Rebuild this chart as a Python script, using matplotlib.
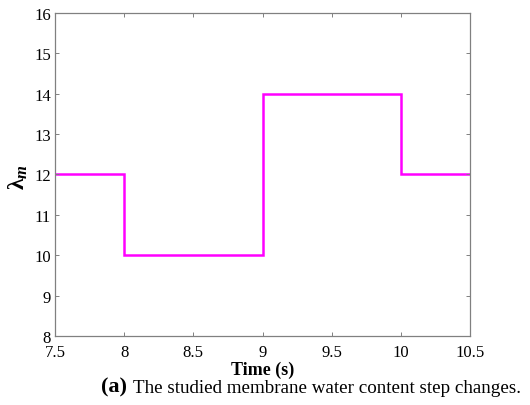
import matplotlib
matplotlib.use("Agg")
import matplotlib.pyplot as plt

# step profile of membrane water content
t_edges = [7.5, 8.0, 9.0, 10.0, 10.5]
lam_vals = [12, 10, 14, 12]

x_ticks = [7.5, 8, 8.5, 9, 9.5, 10, 10.5]
x_labels = ["7.5", "8", "8.5", "9", "9.5", "10", "10.5"]
y_ticks = [8, 9, 10, 11, 12, 13, 14, 15, 16]

plt.rcParams["font.family"] = ["Liberation Serif", "DejaVu Serif"]
plt.rcParams["mathtext.fontset"] = "custom"
plt.rcParams["mathtext.rm"] = "Liberation Serif"
plt.rcParams["mathtext.it"] = "Liberation Serif:italic"
plt.rcParams["mathtext.bf"] = "Liberation Serif:bold"
plt.rcParams["mathtext.bfit"] = "Liberation Serif:italic:bold"

fig = plt.figure(figsize=(5.3, 4.06), dpi=100)
ax = fig.add_axes([0.1038, 0.170, 0.783, 0.7955])

ax.stairs(lam_vals, t_edges, color="#ff00ff", linewidth=1.8, baseline=None)

ax.set_xlim(7.5, 10.5)
ax.set_ylim(8, 16)
ax.set_xticks(x_ticks)
ax.set_xticklabels(x_labels)
ax.set_yticks(y_ticks)
ax.tick_params(direction="in", top=True, right=True, length=3, width=0.7,
               color="#808080", labelsize=12)
ax.tick_params(axis="x", pad=6)
ax.tick_params(axis="y", pad=3)
for s in ax.spines.values():
    s.set_color("#808080")
    s.set_linewidth(0.9)

ax.set_xlabel("Time (s)", fontsize=13, fontweight="bold", labelpad=0.5)
fig.text(0.034, 0.565, r"$\mathbf{\lambda}_{\boldsymbol{m}}$", fontsize=17,
         rotation=90, ha="center", va="center")

fig.text(0.215, 0.046, "(a)", fontsize=16, fontweight="bold", ha="center", va="center")
fig.text(0.251, 0.043, "The studied membrane water content step changes.",
         fontsize=13.7, ha="left", va="center")

fig.savefig("out.png", dpi=100)
